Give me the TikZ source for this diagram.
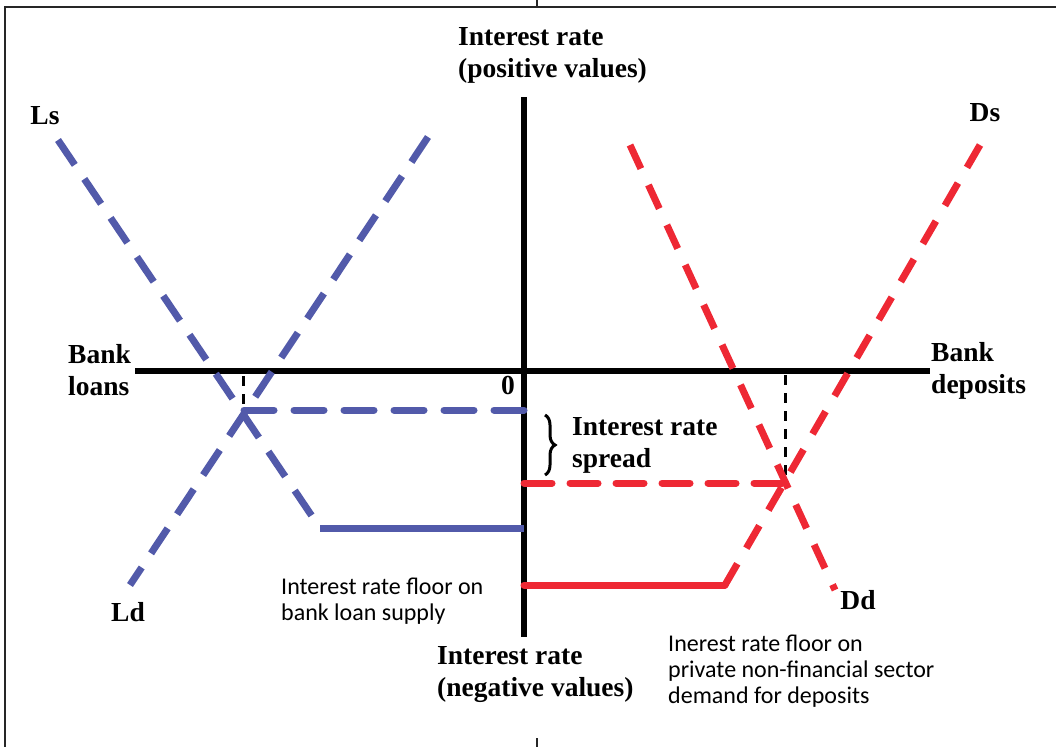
\documentclass[tikz,border=0pt]{standalone}
\usepackage{fontspec}
\setmainfont{Liberation Serif}
\newfontfamily\calib{Carlito}
\usetikzlibrary{decorations.pathreplacing}
\definecolor{lblue}{RGB}{82,90,170}
\definecolor{dred}{RGB}{238,40,52}
\tikzset{
  axisline/.style={line width=6pt, black},
  bluedash/.style={line width=7pt, lblue, dash pattern=on 30pt off 17pt},
  bluehdash/.style={line width=7pt, lblue, dash pattern=on 30pt off 20pt},
  bluesolid/.style={line width=7pt, lblue},
  reddash/.style={line width=7pt, dred, dash pattern=on 26pt off 18pt},
  redhdash/.style={line width=7pt, dred, dash pattern=on 28pt off 18pt},
  redsolid/.style={line width=7pt, dred},
  guide/.style={line width=3pt, black, dash pattern=on 10pt off 8pt},
  frameline/.style={line width=1.5pt, black!85},
  serlab/.style={font=\fontsize{27.5}{32}\selectfont\bfseries, align=left, inner sep=0pt},
  curvelab/.style={font=\fontsize{27.5}{32}\selectfont\bfseries, inner sep=0pt},
  sanslab/.style={font=\calib\fontsize{24}{26}\selectfont, align=left, inner sep=0pt}
}
\begin{document}
\begin{tikzpicture}[x=1pt,y=-1pt]
\useasboundingbox (0,0) rectangle (1056,747);
% frame
\coordinate (f1) at (1056,7);
\coordinate (f2) at (5,7);
\coordinate (f3) at (5,747);
\coordinate (t1) at (537,0);
\coordinate (t2) at (537,7);
\coordinate (b1) at (537,738);
\coordinate (b2) at (537,747);
\draw[frameline] (f1) -- (f2) -- (f3);
\draw[frameline] (t1) -- (t2);
\draw[frameline] (b1) -- (b2);
% axes
\coordinate (vtop) at (524,97);
\coordinate (vbot) at (524,637);
\coordinate (hl) at (135,371);
\coordinate (hr) at (930,371);
\draw[axisline] (vtop) -- (vbot);
\draw[axisline] (hl) -- (hr);
% key points
\coordinate (lsA) at (58,140);
\coordinate (lsK) at (320,528);
\coordinate (lsE) at (524,528);
\coordinate (ldA) at (428,137);
\coordinate (ldB) at (130,585);
\coordinate (X1) at (243,410);
\coordinate (X1a) at (524,410);
\coordinate (g1) at (243,376);
\coordinate (ddA) at (630,145);
\coordinate (ddB) at (835,590);
\coordinate (dsA) at (980,145);
\coordinate (dsK) at (725,585);
\coordinate (dsE) at (524,585);
\coordinate (X2) at (785,483);
\coordinate (X2a) at (524,483);
\coordinate (g2) at (785,375);
% guides
\draw[guide] (g1) -- (X1);
\draw[guide] (g2) -- (X2);
% blue curves
\draw[bluedash] (lsA) -- (lsK);
\draw[bluesolid] (lsK) -- (lsE);
\draw[bluedash] (ldA) -- (ldB);
\draw[bluehdash, line cap=round] (X1a) -- (X1);
% red curves
\draw[reddash] (ddA) -- (ddB);
\draw[reddash] (dsA) -- (dsK);
\draw[redsolid, line cap=round] (dsK) -- (dsE);
\draw[redhdash, line cap=round] (X2a) -- (X2);
% brace
\coordinate (br1) at (545,415);
\coordinate (br2) at (545,475);
\draw[line width=3pt, decorate, decoration={brace, amplitude=10pt}] (br1) -- (br2);
% labels
\node[serlab, anchor=west] (ptop) at (458,55) {Interest rate\\(positive values)};
\node[serlab, anchor=west] (pbot) at (437,675) {Interest rate\\(negative values)};
\node[serlab, anchor=west] (bl) at (68,370) {Bank\\loans};
\node[serlab, anchor=west] (bd) at (931,371) {Bank\\deposits};
\node[serlab, anchor=west] (spr) at (572,445) {Interest rate\\spread};
\node[curvelab] (zero) at (508,385) {0};
\node[curvelab] (Ls) at (45,116) {Ls};
\node[curvelab] (Ld) at (128,612) {Ld};
\node[curvelab] (Ds) at (985,113) {Ds};
\node[curvelab] (Dd) at (858,600) {Dd};
\node[sanslab, anchor=west] (fl1) at (281,601) {Interest rate floor on\\bank loan supply};
\node[sanslab, anchor=west] (fl2) at (668,671) {Inerest rate floor on\\private non-financial sector\\demand for deposits};
\end{tikzpicture}
\end{document}
